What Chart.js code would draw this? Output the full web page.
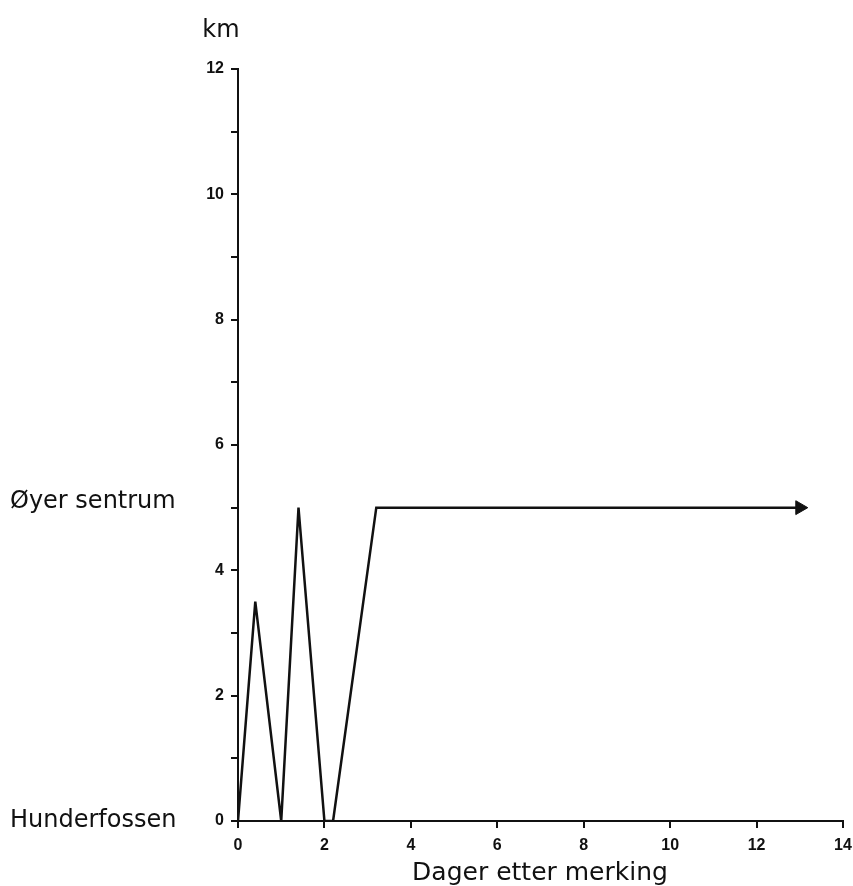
<!DOCTYPE html>
<html lang="no">
<head>
  <meta charset="utf-8">
  <title>Dager etter merking</title>
  <script src="https://cdn.jsdelivr.net/npm/chart.js@4.4.1/dist/chart.umd.min.js"></script>
  <style>
    body {
      margin: 0;
      background: #fff;
    }
    .chart-container {
      width: 853px;
      height: 886px;
    }
  </style>
</head>
<body>
  <div class="chart-container">
    <canvas id="track-chart"></canvas>
  </div>

  <script>
    /* Track of the tagged fish: days after tagging vs km upstream */
    const days = [0, 0.4, 1.0, 1.4, 2.0, 2.2, 3.2, 13.0];
    const km = [0, 3.5, 0, 5, 0, 0, 5, 5];

    /* Place names on the left side, with their km value */
    const placeNames = ['Hunderfossen', 'Øyer sentrum'];
    const placeKm = [0, 5.1];

    const xTitle = 'Dager etter merking';
    const yTitle = 'km';

    const points = days.map(function (d, i) {
      return { x: d, y: km[i] };
    });

    /* only the last point is drawn, as an arrow head */
    const lastIndex = points.length - 1;

    const labelPlugin = {
      id: 'labelPlugin',
      afterDraw: function (chart) {
        const ctx = chart.ctx;
        const yScale = chart.scales.y;
        ctx.save();
        ctx.fillStyle = '#111';

        // place names
        ctx.font = '24px "DejaVu Sans"';
        ctx.textAlign = 'left';
        ctx.textBaseline = 'middle';
        for (let i = 0; i < placeNames.length; i++) {
          ctx.fillText(placeNames[i], 10, yScale.getPixelForValue(placeKm[i]));
        }

        // km over the y axis
        ctx.textAlign = 'center';
        ctx.fillText(yTitle, 221, 31);

        // x axis title
        ctx.font = '25px "DejaVu Sans"';
        ctx.textBaseline = 'alphabetic';
        ctx.fillText(xTitle, 540, 880);
        ctx.restore();
      }
    };

    new Chart(document.getElementById('track-chart'), {
      type: 'scatter',
      data: {
        datasets: [{
          data: points,
          showLine: true,
          borderColor: '#111',
          borderWidth: 2.5,
          backgroundColor: '#111',
          pointStyle: 'triangle',
          rotation: 90,
          pointRadius: points.map(function (p, i) { return i === lastIndex ? 8 : 0; }),
          pointBorderWidth: 1,
          tension: 0
        }]
      },
      options: {
        responsive: true,
        maintainAspectRatio: false,
        animation: false,
        layout: {
          padding: { top: 69, right: 0, bottom: 0, left: 0 }
        },
        plugins: {
          legend: { display: false },
          tooltip: { enabled: false }
        },
        scales: {
          x: {
            type: 'linear',
            min: 0,
            max: 14,
            afterFit: function (scale) {
              scale.height = 65;
              scale.paddingRight = 10;
            },
            border: { color: '#111', width: 2 },
            grid: {
              drawOnChartArea: false,
              color: '#111',
              lineWidth: 2,
              tickLength: 7
            },
            ticks: {
              stepSize: 2,
              color: '#111',
              padding: 8,
              maxRotation: 0,
              font: { family: '"Liberation Sans"', size: 16, weight: 'bold' }
            }
          },
          y: {
            type: 'linear',
            min: 0,
            max: 12,
            afterFit: function (scale) { scale.width = 238; },
            border: { color: '#111', width: 2 },
            grid: {
              drawOnChartArea: false,
              color: '#111',
              lineWidth: 2,
              tickLength: 7
            },
            ticks: {
              stepSize: 1,
              color: '#111',
              padding: 7,
              font: { family: '"Liberation Sans"', size: 16, weight: 'bold' },
              callback: function (v) { return v % 2 === 0 ? v : ''; }
            }
          }
        }
      },
      plugins: [labelPlugin]
    });
  </script>
</body>
</html>
